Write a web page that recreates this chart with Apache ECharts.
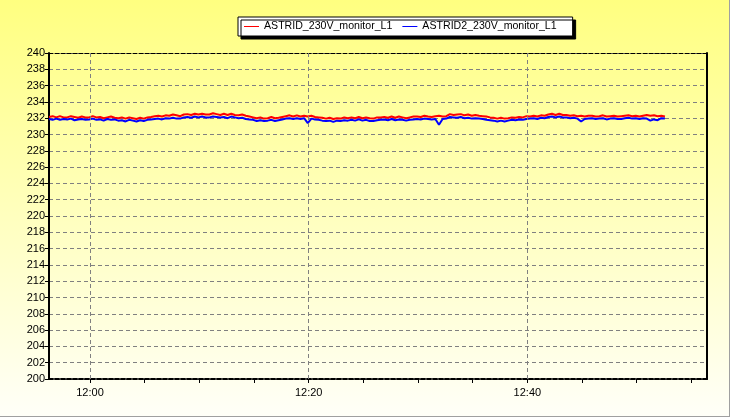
<!DOCTYPE html>
<html>
<head>
<meta charset="utf-8">
<script src="https://cdn.jsdelivr.net/npm/echarts@6/dist/echarts.min.js"></script>
<style>
  html, body { margin: 0; padding: 0; }
  #app { width: 729px; height: 416px; border-right: 1px solid #a0a0a0; border-bottom: 1px solid #a0a0a0; }
</style>
</head>
<body>
<div id="app"></div>
<script>
// time axis in minutes after 12:00, one sample every 20 s
const startMin = -3.75
const stepMin = 1 / 3
const xMin = -3.75
const xMax = 56.43
const labelMinutes = [0, 20, 40]
const tickMinutes = [0, 5, 10, 15, 20, 25, 30, 35, 40, 45, 50, 55]
const gridMinutes = [0, 20, 40]

const seriesNames = ['ASTRID_230V_monitor_L1', 'ASTRID2_230V_monitor_L1']

const astrid1 = [
  232.15, 232.25, 232.1, 232.25, 232.1, 232.1, 232.25, 232.15, 232.05, 232.2, 232.1,
  232.1, 232.25, 232.1, 232.15, 232.0, 232.1, 232.2, 232.05, 232.0,
  232.1, 231.95, 232.1, 232.0, 231.9, 232.05, 231.95, 232.1, 232.15,
  232.25, 232.3, 232.2, 232.35, 232.3, 232.45, 232.35, 232.25, 232.45,
  232.5, 232.4, 232.55, 232.45, 232.55, 232.45, 232.45, 232.6, 232.5,
  232.4, 232.55, 232.4, 232.55, 232.4, 232.35, 232.45, 232.3, 232.2,
  232.1, 232.0, 232.1, 231.95, 232.0, 232.15, 232.0, 232.05, 232.15,
  232.25, 232.35, 232.2, 232.35, 232.2, 232.3, 232.2, 232.3, 232.15,
  232.1, 232.05, 231.95, 232.05, 231.9, 232.0, 231.95, 232.1, 232.0,
  232.1, 232.0, 232.15, 232.0, 232.1, 232.0, 231.95, 232.1, 232.1,
  232.15, 232.05, 232.2, 232.05, 232.2, 232.1, 232.0, 232.1, 232.2,
  232.2, 232.15, 232.3, 232.2, 232.15, 232.25, 232.3, 232.2, 232.25,
  232.5, 232.4, 232.45, 232.5, 232.35, 232.45, 232.3, 232.4, 232.3,
  232.25, 232.2, 232.1, 232.05, 231.95, 232.05, 231.95, 232.0, 232.1,
  232.05, 232.15, 232.1, 232.25, 232.2, 232.3, 232.2, 232.35, 232.3,
  232.45, 232.55, 232.4, 232.55, 232.4, 232.4, 232.3, 232.35, 232.25,
  232.3, 232.2, 232.3, 232.3, 232.2, 232.25, 232.35, 232.2, 232.25,
  232.3, 232.2, 232.25, 232.3, 232.35, 232.25, 232.3, 232.2, 232.3,
  232.4, 232.3, 232.35, 232.25, 232.3, 232.2
]

const astrid2 = [
  231.9, 231.8, 231.95, 231.8, 231.9, 231.85, 231.95, 231.75, 231.85, 231.9, 231.8,
  231.85, 231.95, 231.8, 231.85, 231.7, 231.9, 231.8, 231.85, 231.7,
  231.75, 231.6, 231.8, 231.7, 231.6, 231.75, 231.65, 231.8, 231.85,
  231.9, 231.95, 231.85, 232.0, 231.95, 232.05, 231.95, 231.95, 232.1,
  232.15, 232.05, 232.2, 232.1, 232.2, 232.1, 232.1, 232.2, 232.15,
  232.1, 232.15, 232.0, 232.2, 232.1, 232.0, 232.05, 231.9, 231.85,
  231.8, 231.65, 231.75, 231.65, 231.7, 231.8, 231.65, 231.75, 231.85,
  231.95, 232.0, 231.9, 232.0, 231.9, 232.0, 231.4, 231.95, 231.85,
  231.8, 231.7, 231.65, 231.7, 231.55, 231.7, 231.65, 231.75, 231.7,
  231.8, 231.7, 231.85, 231.7, 231.8, 231.65, 231.65, 231.75, 231.8,
  231.85, 231.75, 231.9, 231.75, 231.85, 231.8, 231.7, 231.8, 231.85,
  231.9, 231.85, 231.95, 231.9, 231.85, 231.9, 231.2, 231.9, 231.95,
  232.15, 232.1, 232.05, 232.15, 232.0, 232.05, 231.95, 232.0, 231.95,
  231.9, 231.8, 231.75, 231.7, 231.6, 231.7, 231.6, 231.7, 231.8,
  231.75, 231.85, 231.8, 231.9, 231.95, 232.0, 231.9, 232.05, 232.0,
  232.15, 232.2, 232.1, 232.2, 232.1, 232.1, 232.0, 232.05, 231.95,
  231.6, 231.9, 231.95, 232.0, 231.9, 231.95, 232.0, 231.85, 231.95,
  232.0, 231.9, 231.9, 232.0, 232.05, 231.95, 232.0, 231.9, 232.0,
  231.95, 231.7, 231.85, 231.75, 232.0, 231.95
]

function toPairs(values) {
  return values.map((v, i) => [startMin + i * stepMin, v])
}

function fmtTime(m) {
  const h = 12 + Math.floor(m / 60)
  const mm = ((m % 60) + 60) % 60
  return h + ':' + String(mm).padStart(2, '0')
}

const chart = echarts.init(document.getElementById('app'))
chart.setOption({
  backgroundColor: {
    type: 'linear', x: 0, y: 0, x2: 0, y2: 1,
    colorStops: [
      { offset: 0, color: '#ffff80' },
      { offset: 1, color: '#fffff8' },
    ],
  },
  animation: false,
  textStyle: { fontFamily: 'Liberation Sans', color: '#000' },
  legend: {
    left: 238,
    top: 17,
    padding: [4, 16, 4, 6],
    itemGap: 10,
    itemWidth: 15,
    itemHeight: 1,
    icon: 'rect',
    backgroundColor: '#ffffff',
    borderColor: '#000000',
    borderWidth: 1,
    shadowColor: '#000000',
    shadowOffsetX: 3,
    shadowOffsetY: 3,
    shadowBlur: 0,
    textStyle: { fontSize: 10.6, color: '#000', fontFamily: 'Liberation Sans' },
    data: seriesNames,
  },
  grid: { left: 49, right: 22, top: 53, bottom: 37, containLabel: false },
  xAxis: [
    {
      type: 'value',
      min: xMin,
      max: xMax,
      axisLine: { onZero: false, lineStyle: { color: '#000', width: 2, type: [4, 2] } },
      axisTick: { customValues: tickMinutes, length: 4, lineStyle: { color: '#000' } },
      axisLabel: {
        customValues: labelMinutes,
        formatter: (v) => fmtTime(v),
        fontSize: 11,
        color: '#000',
        margin: 8,
      },
      splitLine: { show: false },
    },
    {
      type: 'value',
      position: 'top',
      min: xMin,
      max: xMax,
      axisLine: { show: true, onZero: false, lineStyle: { color: '#000', width: 1, type: [4, 2] } },
      axisTick: { show: false },
      axisLabel: { show: false },
      splitLine: { show: false },
    },
  ],
  yAxis: [
    {
      type: 'value',
      min: 200,
      max: 240,
      interval: 2,
      axisLine: { show: true, onZero: false, lineStyle: { color: '#000', width: 2 } },
      axisTick: { show: true, length: 4, lineStyle: { color: '#000' } },
      axisLabel: { fontSize: 11, color: '#000', margin: 4 },
      splitLine: { lineStyle: { color: '#808080', type: [4, 3], width: 1 } },
    },
    {
      type: 'value',
      position: 'right',
      min: 200,
      max: 240,
      axisLine: { show: true, onZero: false, lineStyle: { color: '#000', width: 2 } },
      axisTick: { show: false },
      axisLabel: { show: false },
      splitLine: { show: false },
    },
  ],
  series: [
    {
      name: seriesNames[0],
      type: 'line',
      showSymbol: false,
      color: '#ff0000',
      lineStyle: { width: 2, color: '#ff0000' },
      data: toPairs(astrid1),
      markLine: {
        silent: true,
        symbol: 'none',
        label: { show: false },
        lineStyle: { color: '#808080', type: [4, 3], width: 1 },
        data: gridMinutes.map((m) => ({ xAxis: m })),
      },
    },
    {
      name: seriesNames[1],
      type: 'line',
      showSymbol: false,
      color: '#0000ff',
      lineStyle: { width: 2, color: '#0000ff' },
      data: toPairs(astrid2),
    },
  ],
})
</script>
</body>
</html>
